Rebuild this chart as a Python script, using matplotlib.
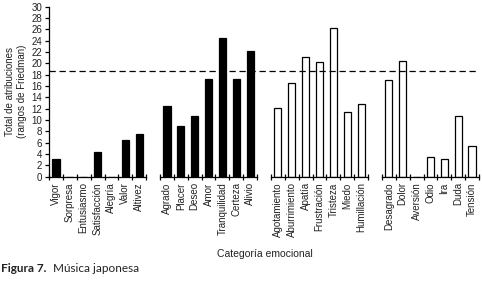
import numpy as np
import matplotlib.pyplot as plt

plt.rcParams['font.family'] = ['Liberation Sans', 'DejaVu Sans']

# category groups and values
grupo1 = ["Vigor", "Sorpresa", "Entusiasmo", "Satisfacción", "Alegría", "Valor", "Altivez"]
valores1 = [3.2, 0, 0, 4.3, 0, 6.4, 7.5]
grupo2 = ["Agrado", "Placer", "Deseo", "Amor", "Tranquilidad", "Certeza", "Alivio"]
valores2 = [12.5, 8.9, 10.7, 17.2, 24.5, 17.2, 22.2]
grupo3 = ["Agotamiento", "Aburrimiento", "Apatía", "Frustración", "Tristeza", "Miedo", "Humillación"]
valores3 = [12.1, 16.5, 21.1, 20.2, 26.2, 11.4, 12.8]
grupo4 = ["Desagrado", "Dolor", "Aversión", "Odio", "Ira", "Duda", "Tensión"]
valores4 = [17.0, 20.4, 0, 3.5, 3.1, 10.7, 5.5]
umbral = 18.6

grupos = [(grupo1, valores1, "black"), (grupo2, valores2, "black"),
          (grupo3, valores3, "white"), (grupo4, valores4, "white")]

fig = plt.figure(figsize=(4.82, 2.81), dpi=100)
ax = fig.add_axes([0.1017, 0.371, 0.8921, 0.605])

txt = "#222222"
pos_all, labels_all, bounds = [], [], []
for g, (names, vals, color) in enumerate(grupos):
    x = np.arange(len(names)) + g * (len(names) + 1)
    ax.bar(x, vals, width=0.52, color=color, edgecolor="black", linewidth=0.9)
    pos_all.extend(x)
    labels_all.extend(names)
    # separate axis segment for each group
    ax.plot([x[0] - 0.5, x[-1] + 0.5], [0, 0], color="black", lw=0.9, clip_on=False)
    bounds.extend(np.arange(x[0] - 0.5, x[-1] + 1.0, 1.0))

ax.axhline(umbral, color="black", lw=0.9, ls=(0, (5, 3)))

ax.set_xlim(-0.5, pos_all[-1] + 0.5)
ax.set_ylim(0, 30)
ax.set_yticks(range(0, 31, 2))
ax.set_xticks(pos_all)
ax.set_xticklabels(labels_all, rotation=90, fontsize=7, color=txt)
ax.set_xticks(bounds, minor=True)
ax.tick_params(axis="x", which="major", length=0, pad=4)
ax.tick_params(axis="x", which="minor", length=4, direction="inout", width=0.9)
ax.tick_params(axis="y", length=3, width=0.9, labelsize=7, labelcolor=txt, pad=2)

for s in ["top", "right", "bottom"]:
    ax.spines[s].set_visible(False)
ax.spines["left"].set_linewidth(0.9)

ax.set_ylabel("Total de atribuciones\n(rangos de Friedman)", fontsize=7, color=txt, labelpad=3)
fig.text(0.55, 0.096, "Categoría emocional", fontsize=7.5, color=txt, ha="center", va="center")

fig.text(0.003, 0.043, "Figura 7.", fontsize=8.5, fontweight="bold", color=txt,
         family=["Lato", "DejaVu Sans"], va="center")
fig.text(0.11, 0.043, "Música japonesa", fontsize=8.5, color=txt,
         family=["Lato", "DejaVu Sans"], va="center")

fig.savefig("out.png", dpi=100)
